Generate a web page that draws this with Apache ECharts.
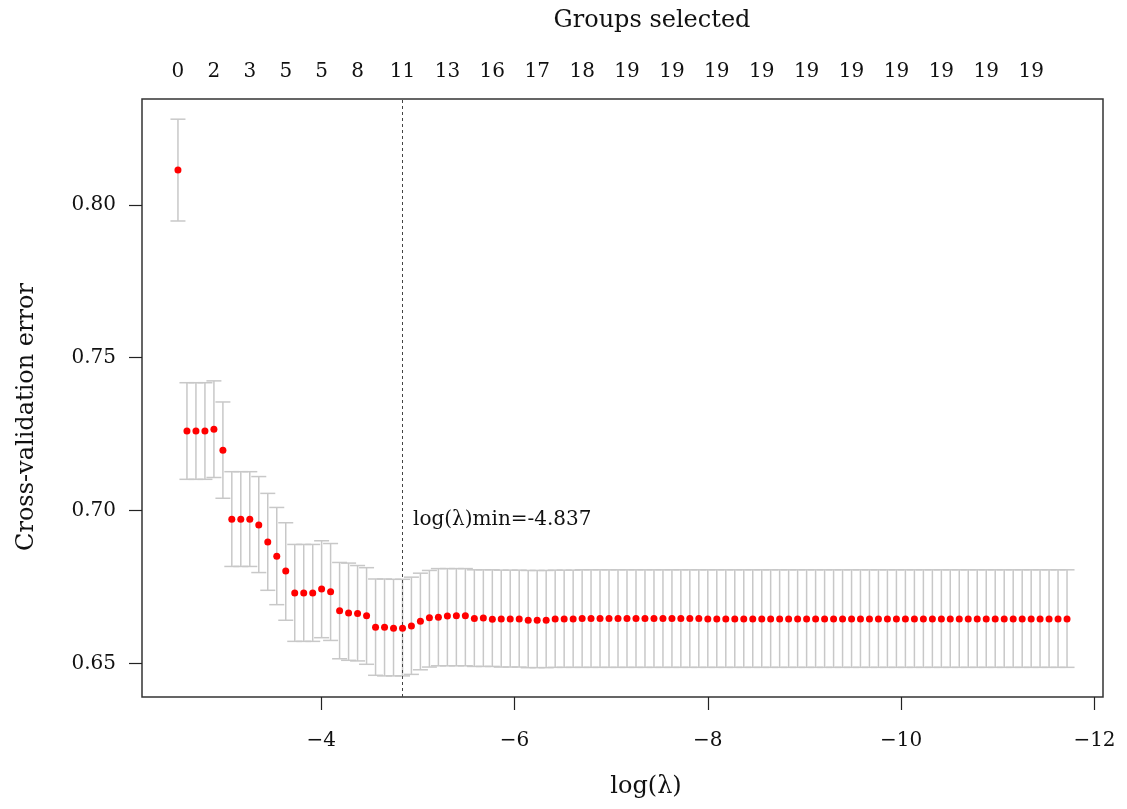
<!DOCTYPE html>
<html>
<head>
<meta charset="utf-8">
<script src="https://cdn.jsdelivr.net/npm/echarts@6/dist/echarts.min.js"></script>
<style>html,body{margin:0;padding:0;background:#fff;}#c{width:1127px;height:809px;}</style>
</head>
<body>
<div id="c"></div>
<script>
const logLambda = [-2.519,-2.612,-2.705,-2.798,-2.891,-2.984,-3.076,-3.169,-3.262,-3.355,
-3.448,-3.541,-3.634,-3.727,-3.820,-3.913,-4.005,-4.098,-4.191,-4.284,
-4.377,-4.470,-4.563,-4.656,-4.749,-4.842,-4.934,-5.027,-5.120,-5.213,
-5.306,-5.399,-5.492,-5.585,-5.678,-5.771,-5.863,-5.956,-6.049,-6.142,
-6.235,-6.328,-6.421,-6.514,-6.607,-6.700,-6.792,-6.885,-6.978,-7.071,
-7.164,-7.257,-7.350,-7.443,-7.536,-7.629,-7.721,-7.814,-7.907,-8.000,
-8.093,-8.186,-8.279,-8.372,-8.465,-8.558,-8.650,-8.743,-8.836,-8.929,
-9.022,-9.115,-9.208,-9.301,-9.394,-9.487,-9.579,-9.672,-9.765,-9.858,
-9.951,-10.044,-10.137,-10.230,-10.323,-10.416,-10.508,-10.601,-10.694,-10.787,
-10.880,-10.973,-11.066,-11.159,-11.252,-11.345,-11.437,-11.530,-11.623,-11.716];

const cvMean = [0.8114,0.7260,0.7260,0.7260,0.7266,0.7197,0.6971,0.6971,0.6971,0.6953,
0.6897,0.6850,0.6802,0.6730,0.6730,0.6730,0.6743,0.6734,0.6672,0.6665,
0.6663,0.6656,0.6618,0.6618,0.6615,0.6615,0.6622,0.6638,0.6649,0.6651,
0.6655,0.6656,0.6656,0.6647,0.6648,0.6644,0.6645,0.6645,0.6645,0.6641,
0.6641,0.6641,0.6645,0.6645,0.6645,0.6647,0.6647,0.6647,0.6647,0.6647,
0.6647,0.6647,0.6647,0.6647,0.6647,0.6647,0.6647,0.6647,0.6647,0.6645,
0.6645,0.6645,0.6645,0.6645,0.6645,0.6645,0.6645,0.6645,0.6645,0.6645,
0.6645,0.6645,0.6645,0.6645,0.6645,0.6645,0.6645,0.6645,0.6645,0.6645,
0.6645,0.6645,0.6645,0.6645,0.6645,0.6645,0.6645,0.6645,0.6645,0.6645,
0.6645,0.6645,0.6645,0.6645,0.6645,0.6645,0.6645,0.6645,0.6645,0.6645];

const cvUpper = [0.8280,0.7418,0.7418,0.7418,0.7424,0.7355,0.7127,0.7127,0.7127,0.7111,
0.7056,0.7010,0.6960,0.6889,0.6889,0.6889,0.6901,0.6892,0.6830,0.6828,
0.6820,0.6813,0.6776,0.6776,0.6775,0.6775,0.6782,0.6795,0.6804,0.6810,
0.6810,0.6810,0.6810,0.6806,0.6806,0.6806,0.6805,0.6805,0.6805,0.6804,
0.6804,0.6804,0.6805,0.6805,0.6805,0.6806,0.6806,0.6806,0.6806,0.6806,
0.6806,0.6806,0.6806,0.6806,0.6806,0.6806,0.6806,0.6806,0.6806,0.6806,
0.6806,0.6806,0.6806,0.6806,0.6806,0.6806,0.6806,0.6806,0.6806,0.6806,
0.6806,0.6806,0.6806,0.6806,0.6806,0.6806,0.6806,0.6806,0.6806,0.6806,
0.6806,0.6806,0.6806,0.6806,0.6806,0.6806,0.6806,0.6806,0.6806,0.6806,
0.6806,0.6806,0.6806,0.6806,0.6806,0.6806,0.6806,0.6806,0.6806,0.6806];

const cvLower = [0.7947,0.7102,0.7102,0.7102,0.7108,0.7040,0.6817,0.6817,0.6817,0.6797,
0.6739,0.6692,0.6641,0.6572,0.6572,0.6572,0.6584,0.6575,0.6515,0.6510,
0.6508,0.6497,0.6461,0.6459,0.6459,0.6459,0.6464,0.6479,0.6488,0.6492,
0.6492,0.6492,0.6492,0.6490,0.6490,0.6490,0.6488,0.6488,0.6488,0.6486,
0.6486,0.6486,0.6487,0.6487,0.6487,0.6487,0.6487,0.6487,0.6487,0.6487,
0.6487,0.6487,0.6487,0.6487,0.6487,0.6487,0.6487,0.6487,0.6487,0.6487,
0.6487,0.6487,0.6487,0.6487,0.6487,0.6487,0.6487,0.6487,0.6487,0.6487,
0.6487,0.6487,0.6487,0.6487,0.6487,0.6487,0.6487,0.6487,0.6487,0.6487,
0.6487,0.6487,0.6487,0.6487,0.6487,0.6487,0.6487,0.6487,0.6487,0.6487,
0.6487,0.6487,0.6487,0.6487,0.6487,0.6487,0.6487,0.6487,0.6487,0.6487];

const topLabelIndex = [0,4,8,12,16,20,25,30,35,40,45,50,55,60,65,70,75,80,85,90,95];
const topLabelCount = [0,2,3,5,5,8,11,13,16,17,18,19,19,19,19,19,19,19,19,19,19];

const xTicks = [-4,-6,-8,-10,-12];
const yTicks = [0.65,0.70,0.75,0.80];
const lambdaMin = -4.837;

const FONT = 'DejaVu Serif';
const topPos = topLabelIndex.map(i => logLambda[i]);
const topMap = {};
topPos.forEach((v, j) => { topMap[v.toFixed(3)] = String(topLabelCount[j]); });

const xMin = -12.088, xMax = -2.147, yMin = 0.6390, yMax = 0.8346;

const barData = logLambda.map((x, i) => [x, cvUpper[i], cvLower[i]]);
const ptData = logLambda.map((x, i) => [x, cvMean[i]]);

const chart = echarts.init(document.getElementById('c'), null, {renderer: 'canvas'});
chart.setOption({
  backgroundColor: '#ffffff',
  animation: false,
  grid: {left: 142, right: 24, top: 99, bottom: 112, show: true,
         borderColor: '#333333', borderWidth: 1.5, backgroundColor: 'transparent'},
  xAxis: [{
    type: 'value', position: 'bottom', inverse: true, min: xMin, max: xMax,
    axisLine: {show: false}, splitLine: {show: false},
    axisTick: {show: true, inside: false, length: 13, customValues: xTicks,
               lineStyle: {color: '#222', width: 1.2}},
    axisLabel: {customValues: xTicks, margin: 34, fontFamily: FONT, fontSize: 20, color: '#111',
                formatter: v => '\u2212' + Math.abs(v)}
  }, {
    type: 'value', position: 'top', inverse: true, min: xMin, max: xMax,
    axisLine: {show: false}, splitLine: {show: false}, axisTick: {show: false},
    axisLabel: {customValues: topPos, margin: 17, fontFamily: FONT, fontSize: 20, color: '#111',
                formatter: v => topMap[Number(v).toFixed(3)] || ''}
  }],
  yAxis: {
    type: 'value', min: yMin, max: yMax,
    axisLine: {show: false}, splitLine: {show: false},
    axisTick: {show: true, inside: false, length: 13, customValues: yTicks,
               lineStyle: {color: '#222', width: 1.2}},
    axisLabel: {customValues: yTicks, margin: 26, fontFamily: FONT, fontSize: 20, color: '#111',
                formatter: v => Number(v).toFixed(2)}
  },
  graphic: [
    {type: 'text', x: 652, y: 21, style: {text: 'Groups selected', font: '24px "DejaVu Serif"', fill: '#111', align: 'center', verticalAlign: 'middle'}},
    {type: 'text', x: 646, y: 787, style: {text: 'log(\u03bb)', font: '24px "DejaVu Serif"', fill: '#111', align: 'center', verticalAlign: 'middle'}},
    {type: 'text', x: 27, y: 417, rotation: Math.PI / 2, style: {text: 'Cross-validation error', font: '24px "DejaVu Serif"', fill: '#111', align: 'center', verticalAlign: 'middle'}},
    {type: 'text', x: 413, y: 520, style: {text: 'log(\u03bb)min=-4.837', font: '20px "DejaVu Serif"', fill: '#111', align: 'left', verticalAlign: 'middle'}}
  ],
  series: [{
    type: 'custom', xAxisIndex: 0, yAxisIndex: 0, data: barData, z: 2,
    renderItem: function (params, api) {
      const x = api.value(0), up = api.value(1), lo = api.value(2);
      const a = api.coord([x, up]), b = api.coord([x, lo]);
      const hw = 7.5;
      const st = {stroke: '#c8c8c8', lineWidth: 1.5};
      return {type: 'group', children: [
        {type: 'line', shape: {x1: a[0], y1: a[1], x2: b[0], y2: b[1]}, style: st},
        {type: 'line', shape: {x1: a[0] - hw, y1: a[1], x2: a[0] + hw, y2: a[1]}, style: st},
        {type: 'line', shape: {x1: b[0] - hw, y1: b[1], x2: b[0] + hw, y2: b[1]}, style: st}
      ]};
    }
  }, {
    type: 'scatter', xAxisIndex: 0, yAxisIndex: 0, data: ptData, z: 5,
    symbol: 'circle', symbolSize: 7, itemStyle: {color: '#ff0000', opacity: 1},
    markLine: {silent: true, symbol: 'none', label: {show: false},
               lineStyle: {color: '#444', type: [3, 3], width: 1},
               data: [{xAxis: lambdaMin}]}
  }]
});
</script>
</body>
</html>
